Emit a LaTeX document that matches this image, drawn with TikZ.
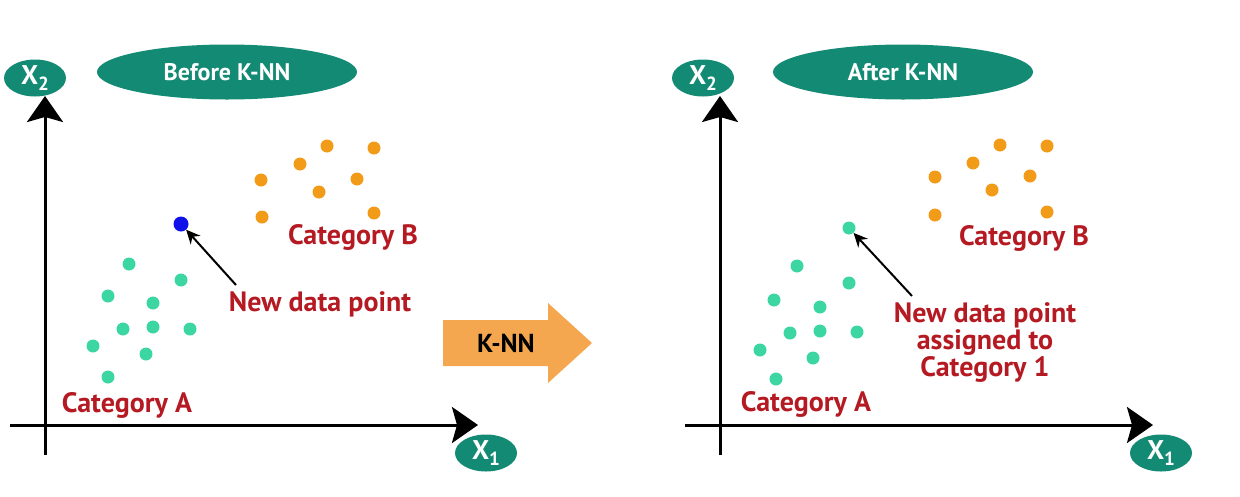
\documentclass[tikz,border=0pt]{standalone}
\usepackage{fontspec}
\setmainfont{PT Sans}
\usetikzlibrary{arrows.meta,shapes.geometric}
\definecolor{tealc}{HTML}{138A73}
\definecolor{mint}{HTML}{3BD6A2}
\definecolor{orangec}{HTML}{F29B18}
\definecolor{bluec}{HTML}{1010E8}
\definecolor{redc}{HTML}{B51A22}
\definecolor{arrowc}{HTML}{F4A74E}
\tikzset{
  axislbl/.style={ellipse,fill=tealc,text=white,font=\bfseries\fontsize{27}{30}\selectfont,minimum width=62pt,minimum height=37pt,inner sep=0pt},
  titlebox/.style={ellipse,fill=tealc,text=white,font=\bfseries\fontsize{24}{28}\selectfont,minimum width=260pt,minimum height=55pt,inner sep=0pt},
  axisline/.style={line width=3pt,-{Stealth[length=26pt,width=36pt,inset=5pt]}},
  dotA/.style={circle,fill=mint,minimum size=13pt,inner sep=0pt},
  dotB/.style={circle,fill=orangec,minimum size=13pt,inner sep=0pt},
  dotN/.style={circle,fill=bluec,minimum size=15pt,inner sep=0pt},
  lbl/.style={text=redc,font=\bfseries\fontsize{28}{27}\selectfont,align=center,inner sep=0pt},
  ptr/.style={line width=2pt,-{Stealth[length=14pt,width=13pt]}},
}
\newcommand{\subd}[1]{\raisebox{-0.22em}{\fontsize{19}{20}\selectfont #1}}
\begin{document}
\begin{tikzpicture}[x=1pt,y=-1pt]
\useasboundingbox (0,0) rectangle (1240,496);
% ---------- left panel ----------
\node[titlebox] (tL) at (227,72) {Before K-NN};
\node[axislbl] (x2L) at (35,78) {X\subd{2}};
\node[axislbl] (x1L) at (486,453) {X\subd{1}};
\coordinate (yL0) at (45,455);
\coordinate (yL1) at (45,96);
\coordinate (xL0) at (10,425);
\coordinate (xL1) at (478,425);
\draw[axisline] (yL0) -- (yL1);
\draw[axisline] (xL0) -- (xL1);
% orange
\foreach \n/\p in {b1/{(261,180)},b2/{(300,164)},b3/{(327,146)},b4/{(374,148)},b5/{(319,192)},b6/{(357,179)},b7/{(262,217)},b8/{(374,213)}}
  \node[dotB] (L\n) at \p {};
% green
\foreach \n/\p in {a1/{(129,264)},a2/{(181,280)},a3/{(108,296)},a4/{(153,303)},a5/{(123,329)},a6/{(153,327)},a7/{(190,329)},a8/{(93,346)},a9/{(146,354)},a10/{(108,377)}}
  \node[dotA] (L\n) at \p {};
\node[dotN] (newL) at (181,224) {};
\node[lbl] (catBL) at (353,237) {Category B};
\node[lbl] (catAL) at (127,405) {Category A};
\node[lbl] (ndL) at (320,304) {New data point};
\coordinate (ptrL) at (236,285);
\draw[ptr] (ptrL) -- (newL);
% ---------- K-NN arrow ----------
\fill[arrowc] (443,320) -- (548,320) -- (548,303) -- (592,343) -- (548,383) -- (548,366) -- (443,366) -- cycle;
\node[font=\bfseries\fontsize{26}{28}\selectfont] (knn) at (506,343) {K-NN};
% ---------- right panel ----------
\node[titlebox] (tR) at (903,72) {After K-NN};
\node[axislbl] (x2R) at (703,78) {X\subd{2}};
\node[axislbl] (x1R) at (1161,453) {X\subd{1}};
\coordinate (yR0) at (720,455);
\coordinate (yR1) at (720,96);
\coordinate (xR0) at (685,425);
\coordinate (xR1) at (1153,425);
\draw[axisline] (yR0) -- (yR1);
\draw[axisline] (xR0) -- (xR1);
\foreach \n/\p in {b1/{(935,177)},b2/{(973,163)},b3/{(1000,145)},b4/{(1047,146)},b5/{(992,190)},b6/{(1030,176)},b7/{(935,215)},b8/{(1047,212)}}
  \node[dotB] (R\n) at \p {};
\foreach \n/\p in {a1/{(797,266)},a2/{(849,283)},a3/{(774,300)},a4/{(820,307)},a5/{(790,333)},a6/{(820,331)},a7/{(857,332)},a8/{(760,350)},a9/{(813,358)},a10/{(776,379)}}
  \node[dotA] (R\n) at \p {};
\node[dotA] (newR) at (849,228) {};
\node[lbl] (catBR) at (1024,238) {Category B};
\node[lbl] (catAR) at (806,404) {Category A};
\node[lbl] (ndR) at (985,343) {New data point\\assigned to\\Category 1};
\coordinate (ptrR) at (912,296);
\draw[ptr] (ptrR) -- (newR);
\end{tikzpicture}
\end{document}
